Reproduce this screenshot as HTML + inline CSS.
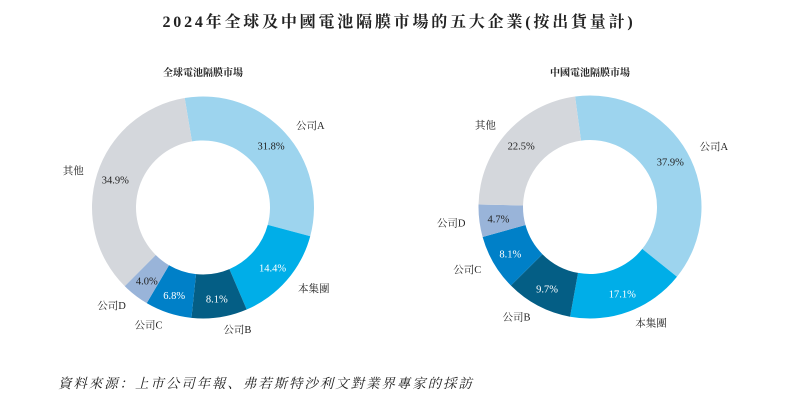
<!DOCTYPE html>
<html><head><meta charset="utf-8"><style>
body{margin:0;background:#fff;}
svg{display:block;font-family:"Liberation Serif","Noto Serif CJK SC",serif;}
</style></head><body>
<svg id="c" width="795" height="405">
<text x="399" y="27" text-anchor="middle" font-size="16" letter-spacing="2.8" font-weight="bold" fill="#222">2024年全球及中國電池隔膜市場的五大企業(按出貨量計)</text>
<text x="203" y="76" text-anchor="middle" font-size="10" font-weight="bold" fill="#222">全球電池隔膜市場</text>
<text x="590" y="76" text-anchor="middle" font-size="10" font-weight="bold" fill="#222">中國電池隔膜市場</text>
<text x="58" y="388" font-size="13.5" letter-spacing="1.9" font-style="italic" fill="#222">資料來源：上市公司年報、弗若斯特沙利文對業界專家的採訪</text>
</svg>
<script>
const categories=["公司A","本集團","公司B","公司C","公司D","其他"];
const globalValues=[31.8,14.4,8.1,6.8,4.0,34.9];
const chinaValues=[37.9,17.1,9.7,8.1,4.7,22.5];
const colors=["#9dd4ee","#00aee8","#045e85","#0080c8","#99b4d9","#d4d7dc"];
const whiteText=[false,true,true,true,false,false];
const svg=document.getElementById('c');
const NS="http://www.w3.org/2000/svg";
function pt(cx,cy,r,a){const t=a*Math.PI/180;return [cx+r*Math.sin(t),cy-r*Math.cos(t)];}
function donut(vals,cx,cy,R,r0,start,key){
  const total=vals.reduce((a,b)=>a+b,0);
  let a=start;
  vals.forEach((v,i)=>{
    const sweep=v/total*360,a1=a+sweep,large=sweep>180?1:0;
    const p1=pt(cx,cy,R,a),p2=pt(cx,cy,R,a1),p3=pt(cx,cy,r0,a1),p4=pt(cx,cy,r0,a);
    const p=document.createElementNS(NS,'path');
    p.setAttribute('d',`M${p1}A${R},${R} 0 ${large} 1 ${p2}L${p3}A${r0},${r0} 0 ${large} 0 ${p4}Z`);
    p.setAttribute('fill',colors[i]);
    
    
    svg.appendChild(p);
    const mid=a+sweep/2;
    const q=pt(cx,cy,(R+r0)/2+3,mid);
    const t=document.createElementNS(NS,'text');
    t.setAttribute('x',q[0]);t.setAttribute('y',q[1]+4);
    t.setAttribute('text-anchor','middle');t.setAttribute('font-size','10.5');
    t.setAttribute('fill',whiteText[i]?'#fff':'#222');
    t.textContent=v.toFixed(1)+'%';
    
    
    svg.appendChild(t);
    const o=pt(cx,cy,R+12,mid);
    const m=((mid%360)+360)%360;
    const l=document.createElementNS(NS,'text');
    l.setAttribute('x',o[0]+(m<180?2:-2));l.setAttribute('y',o[1]+4);
    l.setAttribute('text-anchor',m<180?'start':'end');l.setAttribute('font-size','10.5');
    l.setAttribute('fill','#222');
    l.textContent=categories[i];
    
    
    svg.appendChild(l);
    a=a1;
  });
}
donut(globalValues,203,207.5,111,67,-9.5,'global');
donut(chinaValues,590,207,111.5,67,-7.7,'china');
</script>
</body></html>
